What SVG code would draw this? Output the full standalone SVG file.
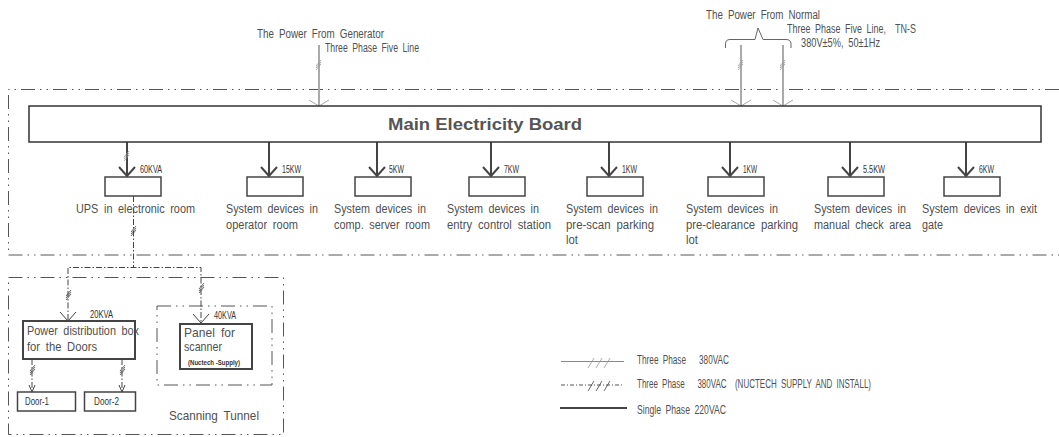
<svg xmlns="http://www.w3.org/2000/svg" width="1059" height="437" viewBox="0 0 1059 437">
<style>
text{font-family:"Liberation Sans Narrow","Liberation Sans",sans-serif;font-size:12.500px;fill:#505050;word-spacing:3px;white-space:pre}
.s{font-size:10.500px;fill:#333;word-spacing:0}
.xs{font-size:8px;fill:#333;font-weight:bold;word-spacing:0}
.m{font-size:13px}
.l{font-size:12px}
.title{font-family:"Liberation Sans",sans-serif;font-size:16px;font-weight:bold;fill:#555;word-spacing:0}
.box{fill:#fff;stroke:#444;stroke-width:1.5}
.thick{fill:#fff;stroke:#444;stroke-width:2}
.dash{fill:none;stroke:#555;stroke-width:1;stroke-dasharray:14 5 1.5 5 1.5 5}
.dashin{fill:none;stroke:#444;stroke-width:1;stroke-dasharray:6 2 1.5 2}
.gray{fill:none;stroke:#aaa;stroke-width:2}
.gray2{fill:none;stroke:#aaa;stroke-width:1}
.dark{fill:none;stroke:#444;stroke-width:2}
.tick{fill:none;stroke:#999;stroke-width:.8}
.tickd{fill:none;stroke:#444;stroke-width:.8}
.ah{fill:none;stroke:#444;stroke-width:1}
</style>
<rect width="1059" height="437" fill="#fff"/>
<g id="frames">
<path class="dash" d="M1059 89.500H8.500V255H1059"/>
<rect class="dash" x="8.500" y="277.500" width="275" height="157"/>
<rect class="dash" x="157" y="306" width="115" height="79"/>
</g>
<g id="connectors">
<path class="gray" d="M319 45V106"/><path class="gray2" d="M309 100L319 106L329 100"/><path class="tick" d="M316 68L321 62M316 66L321 60M316 70L321 64"/>
<path class="gray" d="M741 45V106"/><path class="gray2" d="M731 100L741 106L751 100"/><path class="tick" d="M738 68L743 62M738 66L743 60M738 70L743 64"/>
<path class="gray" d="M783 45V106"/><path class="gray2" d="M773 100L783 106L793 100"/><path class="tick" d="M780 68L785 62M780 66L785 60M780 70L785 64"/>
<path fill="none" stroke="#666" d="M725.500 48V44Q725.500 39.500 730 39.500H755L758 28L763 39.500H786Q791 39.500 791 44V48"/>
<path class="dark" d="M127 142V176"/><path class="dark" d="M119 167L127 176L135 167"/><path class="tick" d="M124 161L129 155M124 159L129 153M124 157L129 151"/>
<path class="dark" d="M269 142V176M261 167L269 176L277 167"/>
<path class="dark" d="M377 142V176M369 167L377 176L385 167"/>
<path class="dark" d="M491 142V176M483 167L491 176L499 167"/>
<path class="dark" d="M609 142V176M601 167L609 176L617 167"/>
<path class="dark" d="M730 142V176M722 167L730 176L738 167"/>
<path class="dark" d="M850 142V176M842 167L850 176L858 167"/>
<path class="dark" d="M966 142V176M958 167L966 176L974 167"/>
<path class="dashin" d="M133.500 196V267"/><path class="tickd" d="M131 236L136 230M131 234L136 228M131 232L136 226"/>
<path class="dashin" d="M68 320V267.500H201V323"/>
<path class="tickd" d="M66 300L71 294M66 298L71 292M66 296L71 290"/><path class="tickd" d="M199 293L204 287M199 291L204 285M199 289L204 283"/>
<path class="ah" d="M60 312L68 321L76 312M193 314L201 323L209 314"/>
<path class="dashin" d="M32 359V392"/><path class="tickd" d="M30 375L35 369M30 373L35 367M30 371L35 365"/><path class="ah" d="M29 385L32 392L35 385"/>
<path class="dashin" d="M122 359V392"/><path class="tickd" d="M120 375L125 369M120 373L125 367M120 371L125 365"/><path class="ah" d="M119 385L122 392L125 385"/>
</g>
<g id="main-board"><rect x="29" y="106" width="1012" height="36" fill="#fff" stroke="#333" stroke-width="1.500"/><text class="title" x="388" y="130" textLength="194" lengthAdjust="spacingAndGlyphs">Main Electricity Board</text></g>
<g id="src-generator"><text x="257" y="38" textLength="127" lengthAdjust="spacingAndGlyphs">The Power From Generator</text><text x="325" y="52" textLength="94" lengthAdjust="spacingAndGlyphs">Three Phase Five Line</text></g>
<g id="src-normal"><text x="706" y="19" textLength="114" lengthAdjust="spacingAndGlyphs">The Power From Normal</text><text x="787" y="33" textLength="129" lengthAdjust="spacingAndGlyphs">Three Phase Five Line,  TN-S</text><text x="801" y="47" textLength="79" lengthAdjust="spacingAndGlyphs">380V±5%, 50±1Hz</text></g>
<g id="n-ups"><rect class="box" x="105" y="177" width="56" height="19"/><text class="s" x="140" y="173" textLength="22" lengthAdjust="spacingAndGlyphs">60KVA</text><text x="76" y="213" textLength="119" lengthAdjust="spacingAndGlyphs">UPS in electronic room</text></g>
<g id="n-operator"><rect class="box" x="247" y="177" width="56" height="19"/><text class="s" x="282" y="173" textLength="19" lengthAdjust="spacingAndGlyphs">15KW</text><text x="226" y="213" textLength="92" lengthAdjust="spacingAndGlyphs">System devices in</text><text x="226" y="229" textLength="72" lengthAdjust="spacingAndGlyphs">operator room</text></g>
<g id="n-server"><rect class="box" x="355" y="177" width="56" height="19"/><text class="s" x="389" y="173" textLength="15" lengthAdjust="spacingAndGlyphs">5KW</text><text x="334" y="213" textLength="92" lengthAdjust="spacingAndGlyphs">System devices in</text><text x="334" y="229" textLength="96" lengthAdjust="spacingAndGlyphs">comp. server room</text></g>
<g id="n-entry"><rect class="box" x="469" y="177" width="56" height="19"/><text class="s" x="504" y="173" textLength="15" lengthAdjust="spacingAndGlyphs">7KW</text><text x="447" y="213" textLength="92" lengthAdjust="spacingAndGlyphs">System devices in</text><text x="447" y="229" textLength="104" lengthAdjust="spacingAndGlyphs">entry control station</text></g>
<g id="n-prescan"><rect class="box" x="587" y="177" width="56" height="19"/><text class="s" x="622" y="173" textLength="15" lengthAdjust="spacingAndGlyphs">1KW</text><text x="566" y="213" textLength="92" lengthAdjust="spacingAndGlyphs">System devices in</text><text x="566" y="229" textLength="88" lengthAdjust="spacingAndGlyphs">pre-scan parking</text><text x="566" y="244" textLength="12" lengthAdjust="spacingAndGlyphs">lot</text></g>
<g id="n-preclear"><rect class="box" x="708" y="177" width="56" height="19"/><text class="s" x="743" y="173" textLength="14" lengthAdjust="spacingAndGlyphs">1KW</text><text x="686" y="213" textLength="92" lengthAdjust="spacingAndGlyphs">System devices in</text><text x="686" y="229" textLength="112" lengthAdjust="spacingAndGlyphs">pre-clearance parking</text><text x="686" y="244" textLength="12" lengthAdjust="spacingAndGlyphs">lot</text></g>
<g id="n-manual"><rect class="box" x="828" y="177" width="56" height="19"/><text class="s" x="863" y="173" textLength="22" lengthAdjust="spacingAndGlyphs">5.5KW</text><text x="814" y="213" textLength="92" lengthAdjust="spacingAndGlyphs">System devices in</text><text x="814" y="229" textLength="97" lengthAdjust="spacingAndGlyphs">manual check area</text></g>
<g id="n-exit"><rect class="box" x="944" y="177" width="56" height="19"/><text class="s" x="979" y="173" textLength="15" lengthAdjust="spacingAndGlyphs">6KW</text><text x="922" y="213" textLength="115" lengthAdjust="spacingAndGlyphs">System devices in exit</text><text x="922" y="229" textLength="21" lengthAdjust="spacingAndGlyphs">gate</text></g>
<g id="n-doorsbox"><rect class="thick" x="23" y="321" width="112" height="38"/><text class="s" x="90" y="318" textLength="23" lengthAdjust="spacingAndGlyphs">20KVA</text><text class="m" x="27" y="335" textLength="112" lengthAdjust="spacingAndGlyphs">Power distribution box</text><text class="m" x="27" y="351" textLength="70" lengthAdjust="spacingAndGlyphs">for the Doors</text></g>
<g id="n-door1"><rect class="box" x="17.500" y="392" width="58" height="19"/><text class="s" x="25" y="405" textLength="24" lengthAdjust="spacingAndGlyphs">Door-1</text></g>
<g id="n-door2"><rect class="box" x="84.500" y="392" width="51" height="19"/><text class="s" x="94" y="405" textLength="25" lengthAdjust="spacingAndGlyphs">Door-2</text></g>
<g id="n-panel"><rect class="thick" x="180" y="324" width="72" height="45"/><text class="s" x="214" y="319" textLength="22" lengthAdjust="spacingAndGlyphs">40KVA</text><text class="m" x="184" y="337" textLength="51" lengthAdjust="spacingAndGlyphs">Panel for</text><text class="m" x="184" y="351" textLength="38" lengthAdjust="spacingAndGlyphs">scanner</text><text class="xs" x="188" y="365" textLength="52" lengthAdjust="spacingAndGlyphs">(Nuctech -Supply)</text></g>
<g id="tunnel-label"><text class="m" x="169" y="420" textLength="90" lengthAdjust="spacingAndGlyphs">Scanning Tunnel</text></g>
<g id="legend">
<path stroke="#888" fill="none" d="M561 361.500H624"/><path class="tick" d="M588 368L594 358M596 368L602 358M604 368L610 358"/><text class="l" x="637" y="364" textLength="92" lengthAdjust="spacingAndGlyphs">Three Phase   380VAC</text>
<path stroke="#555" fill="none" stroke-dasharray="4 2 1 2" d="M561 385H624"/><path class="tickd" d="M588 391L594 381M596 391L602 381M604 391L610 381"/><text class="l" x="637" y="388" textLength="234" lengthAdjust="spacingAndGlyphs">Three Phase   380VAC  (NUCTECH SUPPLY AND INSTALL)</text>
<path stroke="#444" stroke-width="2" fill="none" d="M560 408H627"/><text class="l" x="637" y="414" textLength="89" lengthAdjust="spacingAndGlyphs">Single Phase 220VAC</text>
</g>
</svg>
